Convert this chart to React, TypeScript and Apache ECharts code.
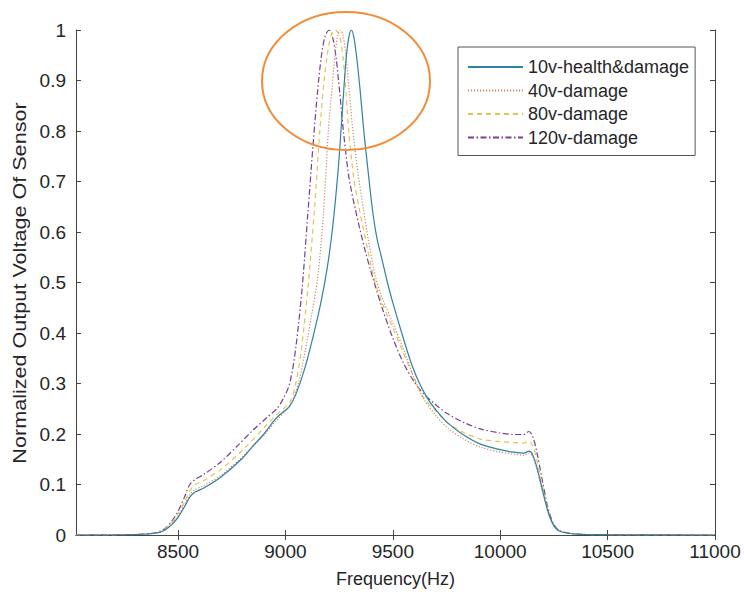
import React, { useEffect, useRef } from "react";
import * as echarts from "echarts";

// ---- data (frequency in Hz, normalized voltage) ----
const xTicks = [8500, 9000, 9500, 10000, 10500, 11000];
const seriesNames = ["10v-health&damage", "40v-damage", "80v-damage", "120v-damage"];
const yTitle = "Normalized Output Voltage Of Sensor";
const xTitle = "Frequency(Hz)";

const f10 = [8025, 8300, 8400, 8440, 8470, 8500, 8530, 8555, 8580, 8620, 8700, 8800, 8850, 8900, 8950, 8990, 9020, 9050, 9090, 9130, 9165, 9195, 9220, 9245, 9265, 9282, 9295, 9307, 9319, 9332, 9348, 9365, 9385, 9405, 9425, 9450, 9475, 9500, 9545, 9590, 9630, 9670, 9710, 9755, 9830, 9908, 10000, 10062, 10110, 10133, 10150, 10170, 10195, 10220, 10245, 10275, 10350, 10500, 11000];
const v10 = [0, 0.001, 0.004, 0.01, 0.02, 0.035, 0.056, 0.075, 0.085, 0.093, 0.115, 0.152, 0.177, 0.2, 0.228, 0.244, 0.255, 0.28, 0.33, 0.395, 0.46, 0.53, 0.61, 0.72, 0.84, 0.94, 0.985, 1.0, 0.985, 0.945, 0.88, 0.8, 0.72, 0.645, 0.59, 0.545, 0.5, 0.46, 0.395, 0.335, 0.295, 0.265, 0.243, 0.222, 0.198, 0.18, 0.169, 0.164, 0.162, 0.166, 0.16, 0.135, 0.092, 0.05, 0.022, 0.008, 0.002, 0.0005, 0];

const f40 = [8025, 8300, 8400, 8440, 8470, 8500, 8530, 8555, 8580, 8620, 8700, 8800, 8900, 8960, 9000, 9030, 9060, 9090, 9120, 9150, 9176, 9200, 9218, 9232, 9244, 9256, 9268, 9280, 9295, 9312, 9335, 9363, 9390, 9420, 9450, 9500, 9557, 9600, 9643, 9700, 9755, 9830, 9908, 10000, 10062, 10110, 10133, 10150, 10170, 10195, 10220, 10245, 10275, 10350, 10500, 11000];
const v40 = [0, 0.001, 0.004, 0.011, 0.022, 0.038, 0.06, 0.08, 0.09, 0.098, 0.118, 0.155, 0.198, 0.228, 0.245, 0.265, 0.3, 0.36, 0.43, 0.51, 0.63, 0.8, 0.89, 0.955, 0.99, 1.0, 0.99, 0.955, 0.89, 0.81, 0.725, 0.645, 0.575, 0.51, 0.47, 0.42, 0.36, 0.31, 0.27, 0.237, 0.212, 0.19, 0.174, 0.164, 0.16, 0.158, 0.162, 0.156, 0.132, 0.09, 0.049, 0.021, 0.008, 0.002, 0.0005, 0];

const f80 = [8025, 8300, 8400, 8440, 8470, 8500, 8530, 8555, 8580, 8620, 8700, 8800, 8900, 8950, 8990, 9023, 9048, 9075, 9105, 9135, 9160, 9180, 9200, 9216, 9232, 9248, 9263, 9278, 9295, 9320, 9345, 9380, 9415, 9450, 9500, 9545, 9600, 9643, 9700, 9755, 9830, 9908, 10000, 10062, 10110, 10133, 10150, 10170, 10195, 10220, 10245, 10275, 10350, 10500, 11000];
const v80 = [0, 0.001, 0.004, 0.012, 0.024, 0.042, 0.066, 0.088, 0.1, 0.108, 0.13, 0.168, 0.212, 0.235, 0.25, 0.265, 0.3, 0.37, 0.49, 0.644, 0.8, 0.9, 0.965, 0.993, 1.0, 0.993, 0.965, 0.9, 0.8, 0.7, 0.644, 0.57, 0.505, 0.46, 0.41, 0.365, 0.31, 0.272, 0.246, 0.222, 0.203, 0.19, 0.185, 0.183, 0.182, 0.186, 0.178, 0.15, 0.1, 0.054, 0.023, 0.008, 0.002, 0.0005, 0];

const f120 = [8025, 8300, 8400, 8440, 8470, 8500, 8530, 8555, 8580, 8620, 8700, 8780, 8850, 8915, 8960, 8990, 9020, 9048, 9078, 9105, 9130, 9150, 9168, 9185, 9204, 9220, 9236, 9252, 9270, 9295, 9326, 9370, 9410, 9450, 9500, 9550, 9600, 9643, 9700, 9755, 9830, 9908, 10000, 10062, 10110, 10133, 10150, 10170, 10195, 10220, 10245, 10275, 10350, 10500, 11000];
const v120 = [0, 0.001, 0.005, 0.013, 0.027, 0.047, 0.075, 0.1, 0.11, 0.12, 0.145, 0.178, 0.208, 0.233, 0.25, 0.27, 0.3, 0.37, 0.49, 0.64, 0.78, 0.88, 0.95, 0.988, 1.0, 0.985, 0.945, 0.88, 0.8, 0.71, 0.644, 0.565, 0.505, 0.45, 0.39, 0.34, 0.303, 0.28, 0.258, 0.24, 0.223, 0.21, 0.202, 0.199, 0.199, 0.205, 0.197, 0.165, 0.11, 0.058, 0.025, 0.009, 0.002, 0.0005, 0];

const colors = ["#2f82a3", "#c98a70", "#e6c24e", "#7b3d8e"];
const dashes: any[] = ["solid", [1.2, 1.8], [5, 4], [6, 2.5, 1.5, 2.5]];

const pair = (f: number[], v: number[]) => f.map((x, i) => [x, v[i]]);

export default function App() {
  const ref = useRef<HTMLDivElement>(null);
  useEffect(() => {
    if (!ref.current) return;
    const chart = echarts.init(ref.current, undefined, { renderer: "svg" });
    const font = "'Liberation Sans', Arial, Helvetica, sans-serif";
    const axisColor = "#444444";
    const textColor = "#262626";
    const datasets = [pair(f10, v10), pair(f40, v40), pair(f80, v80), pair(f120, v120)];
    const fmt = (v: number) => String(Math.round(v * 1000) / 1000);
    chart.setOption({
      animation: false,
      backgroundColor: "#ffffff",
      textStyle: { fontFamily: font },
      grid: { left: 76, right: 29, top: 30, bottom: 64, containLabel: false },
      legend: {
        orient: "vertical",
        left: 458,
        top: 47,
        padding: [10, 6, 8, 9],
        itemGap: 3.5,
        itemWidth: 55,
        itemHeight: 14,
        borderColor: "#555555",
        borderWidth: 1,
        backgroundColor: "#ffffff",
        borderRadius: 0,
        itemStyle: { opacity: 0 },
        textStyle: { fontSize: 18, color: textColor, fontFamily: font, lineHeight: 20 },
        data: seriesNames,
      },
      xAxis: [
        {
          type: "value",
          min: 8025,
          max: 11000,
          name: xTitle,
          nameLocation: "middle",
          nameGap: 35,
          nameTextStyle: { fontSize: 18, color: textColor, fontFamily: font },
          axisLine: { lineStyle: { color: axisColor, width: 1 } },
          axisTick: { inside: true, length: 5, customValues: xTicks, lineStyle: { color: axisColor } },
          axisLabel: { customValues: xTicks, fontSize: 19, color: textColor, margin: 7, fontFamily: font, formatter: fmt },
          splitLine: { show: false },
        },
        {
          type: "value",
          position: "top",
          min: 8025,
          max: 11000,
          axisLine: { show: true, lineStyle: { color: axisColor, width: 1 } },
          axisTick: { show: true, inside: true, length: 5, customValues: xTicks, lineStyle: { color: axisColor } },
          axisLabel: { show: false },
          splitLine: { show: false },
        },
      ],
      yAxis: [
        {
          type: "value",
          min: 0,
          max: 1,
          interval: 0.1,
          axisLine: { show: true, lineStyle: { color: axisColor, width: 1 } },
          axisTick: { show: true, inside: true, length: 5, lineStyle: { color: axisColor } },
          axisLabel: { fontSize: 19, color: textColor, margin: 10, fontFamily: font, formatter: fmt },
          splitLine: { show: false },
        },
        {
          type: "value",
          position: "right",
          min: 0,
          max: 1,
          interval: 0.1,
          axisLine: { show: true, lineStyle: { color: axisColor, width: 1 } },
          axisTick: { show: true, inside: true, length: 5, lineStyle: { color: axisColor } },
          axisLabel: { show: false },
          splitLine: { show: false },
        },
      ],
      series: datasets.map((d, i) => ({
        name: seriesNames[i],
        type: "line",
        data: d,
        xAxisIndex: 0,
        yAxisIndex: 0,
        showSymbol: false,
        symbol: "none",
        smooth: 0.3,
        color: colors[i],
        lineStyle: { color: colors[i], width: 1.2, type: dashes[i] },
        z: 4 - i,
      })),
      graphic: [
        {
          type: "text",
          x: 20,
          y: 283,
          rotation: Math.PI / 2,
          scaleX: 1.2,
          style: {
            text: yTitle,
            fontSize: 18,
            fontFamily: font,
            fill: textColor,
            textAlign: "center",
            textVerticalAlign: "middle",
          },
        },
        {
          type: "ellipse",
          shape: { cx: 346, cy: 81, rx: 84, ry: 69 },
          style: { fill: "none", stroke: "#f28c38", lineWidth: 2 },
          z: 100,
        },
      ],
    });
    return () => chart.dispose();
  }, []);
  return (
    <div
      ref={ref}
      style={{ position: "fixed", left: 0, top: 0, width: 744, height: 599, background: "#fff" }}
    />
  );
}
